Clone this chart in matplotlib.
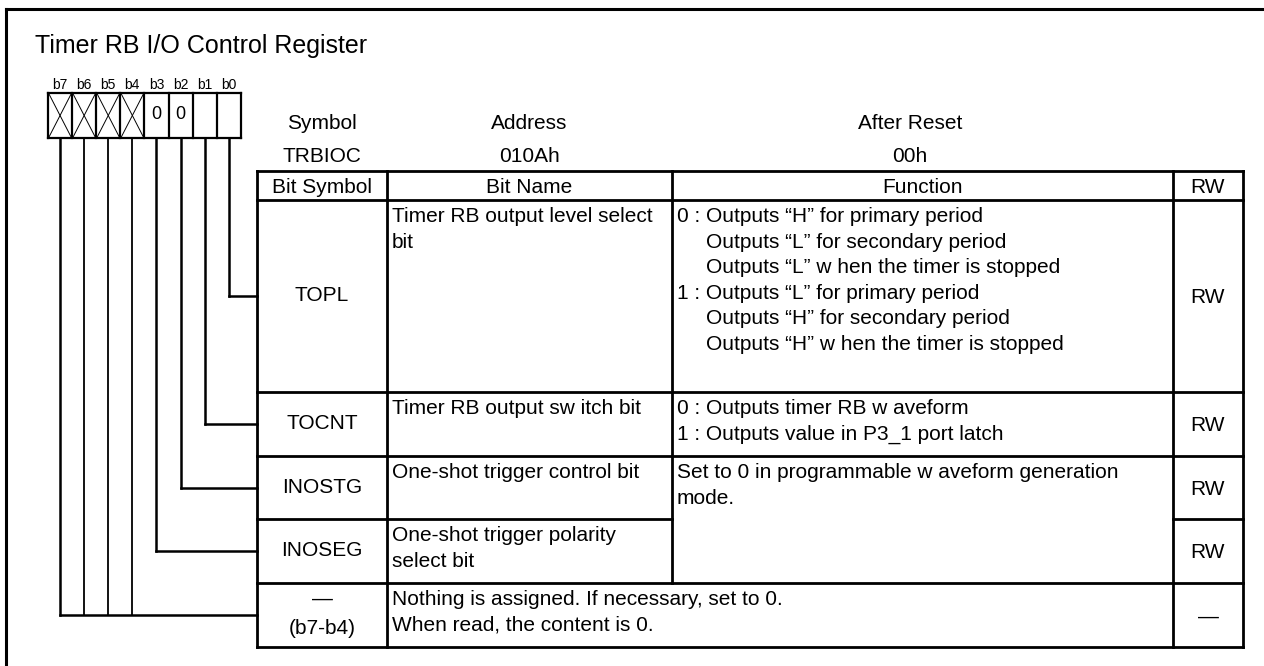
import matplotlib
matplotlib.use("Agg")
import matplotlib.pyplot as plt

plt.rcParams['font.family'] = ['Liberation Sans', 'DejaVu Sans']

# ---------------- data ----------------
title = "Timer RB I/O Control Register"
bit_labels = ["b7", "b6", "b5", "b4", "b3", "b2", "b1", "b0"]
bit_values = ["X", "X", "X", "X", "0", "0", "", ""]   # X = not assigned (crossed)
reg_header = ["Symbol", "Address", "After Reset"]
reg_values = ["TRBIOC", "010Ah", "00h"]
col_headers = ["Bit Symbol", "Bit Name", "Function", "RW"]
row_symbols = [["TOPL"], ["TOCNT"], ["INOSTG"], ["INOSEG"], ["\u2014", "(b7-b4)"]]
row_names = [["Timer RB output level select", "bit"],
             ["Timer RB output sw itch bit"],
             ["One-shot trigger control bit"],
             ["One-shot trigger polarity", "select bit"],
             ["Nothing is assigned. If necessary, set to 0.", "When read, the content is 0."]]
row_funcs = [[("0 : ", "Outputs \u201cH\u201d for primary period"),
              ("", "Outputs \u201cL\u201d for secondary period"),
              ("", "Outputs \u201cL\u201d w hen the timer is stopped"),
              ("1 : ", "Outputs \u201cL\u201d for primary period"),
              ("", "Outputs \u201cH\u201d for secondary period"),
              ("", "Outputs \u201cH\u201d w hen the timer is stopped")],
             [("", "0 : Outputs timer RB w aveform"),
              ("", "1 : Outputs value in P3_1 port latch")],
             [("", "Set to 0 in programmable w aveform generation"),
              ("", "mode.")],
             None,
             None]
row_rw = ["RW", "RW", "RW", "RW", "\u2014"]
row_bits = [0, 1, 2, 3, None]   # bit index (b0..b3) connected to each row; None = b7-b4

# ---------------- layout (pixels) ----------------
W, H = 1264, 666
fig = plt.figure(figsize=(W / 100, H / 100), dpi=100)
ax = fig.add_axes([0, 0, 1, 1])
ax.set_xlim(0, W)
ax.set_ylim(H, 0)
ax.axis('off')

K = 'black'
TL = 2.0     # table line width
FS = 15      # table font size


def txt(x, yc, s, size=FS, ha='left', **kw):
    cap = 0.716 * size * 100 / 72
    return ax.text(x, yc + cap / 2, s, fontsize=size, ha=ha, va='baseline', color=K, **kw)


def line(xs, ys, lw=TL):
    ax.plot(xs, ys, color=K, lw=lw, solid_capstyle='projecting', solid_joinstyle='miter')


# outer frame (top and left edges visible)
line([6, W + 5], [9, 9], lw=2.2)
line([6, 6], [9, H + 5], lw=2.2)

# title
ax.text(35, 53, title, fontsize=18, ha='left', va='baseline', color=K)

# bit boxes
bx0, bw, by0, by1 = 48, 24.1, 93, 138
for i, (lab, val) in enumerate(zip(bit_labels, bit_values)):
    x0 = bx0 + i * bw
    xc = x0 + bw / 2
    ax.text(xc, 89, lab, fontsize=10, ha='center', va='baseline', color=K)
    if val == "X":
        ax.plot([x0 + 1, x0 + bw - 1], [by0 + 1, by1 - 1], color=K, lw=0.7)
        ax.plot([x0 + 1, x0 + bw - 1], [by1 - 1, by0 + 1], color=K, lw=0.7)
    elif val:
        txt(xc, (by0 + by1) / 2 - 3, val, size=13, ha='center')
for i in range(9):
    x = bx0 + i * bw
    line([x, x], [by0, by1], lw=1.6)
line([bx0, bx0 + 8 * bw], [by0, by0], lw=1.6)
line([bx0, bx0 + 8 * bw], [by1, by1], lw=1.6)

# table geometry
cx = [257, 387, 672, 1173, 1243]
ry = [171, 200, 392, 456, 519, 583, 647]

# register header
hx = [(cx[0] + cx[1]) / 2, (cx[1] + cx[2]) / 2, 910]
for x, h, v in zip(hx, reg_header, reg_values):
    txt(x, 122, h, ha='center')
    txt(x, 155, v, ha='center')

# column headers
for i, h in enumerate(col_headers):
    txt((cx[i] + cx[i + 1]) / 2, 186, h, ha='center')

# horizontal lines
line([cx[0], cx[4]], [ry[0], ry[0]])
line([cx[0], cx[4]], [ry[1], ry[1]])
line([cx[0], cx[4]], [ry[2], ry[2]])
line([cx[0], cx[4]], [ry[3], ry[3]])
line([cx[0], cx[2]], [ry[4], ry[4]])
line([cx[3], cx[4]], [ry[4], ry[4]])
line([cx[0], cx[4]], [ry[5], ry[5]])
line([cx[0], cx[4]], [ry[6], ry[6]])
# vertical lines
line([cx[0], cx[0]], [ry[0], ry[6]])
line([cx[1], cx[1]], [ry[0], ry[6]])
line([cx[2], cx[2]], [ry[0], ry[5]])
line([cx[3], cx[3]], [ry[0], ry[6]])
line([cx[4], cx[4]], [ry[0], ry[6]])

# width of the "0 : " prefix, so the continuation lines align with "Outputs"
renderer = fig.canvas.get_renderer()
probe = ax.text(0, 0, "0 : ", fontsize=FS)
indent = probe.get_window_extent(renderer=renderer).width
probe.remove()

# rows
LS = 25.5
for r in range(5):
    top, bot = ry[r + 1], ry[r + 2]
    yc = (top + bot) / 2
    syms = row_symbols[r]
    if len(syms) == 1:
        txt((cx[0] + cx[1]) / 2, yc - 2, syms[0], ha='center')
    else:
        txt((cx[0] + cx[1]) / 2, top + 14, syms[0], ha='center')
        txt((cx[0] + cx[1]) / 2, top + 44, syms[1], ha='center')
    for j, s in enumerate(row_names[r]):
        txt(cx[1] + 5, top + 15 + j * LS, s)
    if row_funcs[r]:
        for j, (pre, s) in enumerate(row_funcs[r]):
            if pre:
                txt(cx[2] + 5, top + 15 + j * LS, pre + s)
            elif r == 0:
                txt(cx[2] + 5 + indent, top + 15 + j * LS, s)
            else:
                txt(cx[2] + 5, top + 15 + j * LS, s)
    txt((cx[3] + cx[4]) / 2, yc, row_rw[r], ha='center')

# leader lines from bits to rows
for r, b in enumerate(row_bits):
    yc = (ry[r + 1] + ry[r + 2]) / 2
    if b is None:
        for k in range(4):
            xk = bx0 + k * bw + bw / 2
            line([xk, xk], [by1, yc], lw=1.8 if k == 0 else 1.3)
        line([bx0 + bw / 2, cx[0]], [yc, yc], lw=1.8)
    else:
        xb = bx0 + (7 - b) * bw + bw / 2
        line([xb, xb], [by1, yc], lw=1.8)
        line([xb, cx[0]], [yc, yc], lw=1.8)

fig.savefig("out.png", dpi=100)
